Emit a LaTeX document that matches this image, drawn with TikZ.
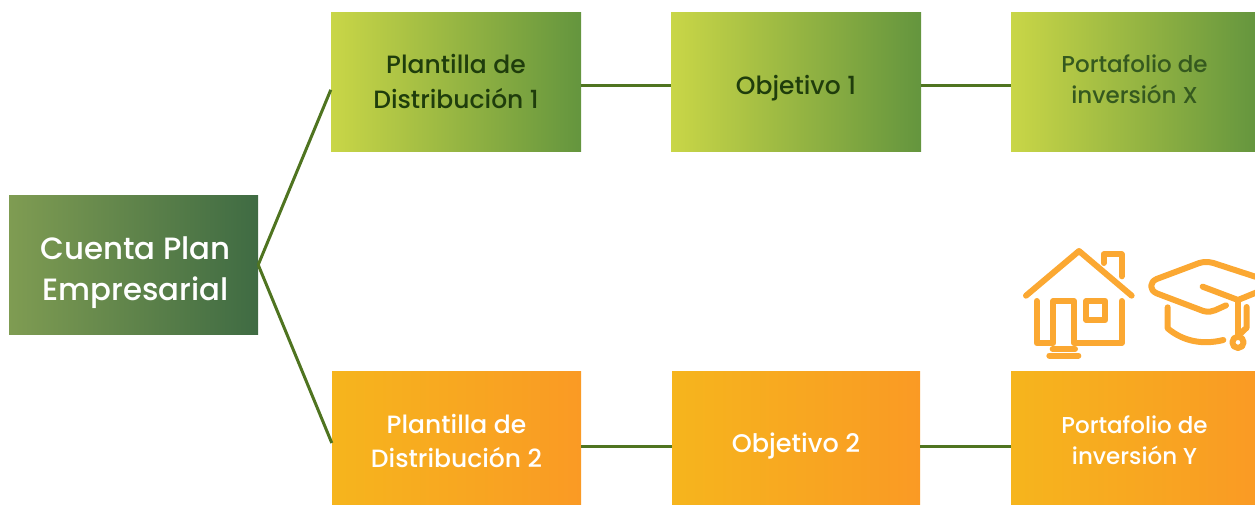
\documentclass[tikz,border=0pt]{standalone}
\usepackage{fontspec}
\setmainfont{Poppins Medium}
\definecolor{linkgreen}{HTML}{4F7420}
\definecolor{darktext}{HTML}{1F3D0C}
\definecolor{midtext}{HTML}{35591F}
\definecolor{iconorange}{HTML}{FBA832}
\definecolor{HG1}{HTML}{C9D647}
\definecolor{HG2}{HTML}{64953E}
\definecolor{HO1}{HTML}{F6B51D}
\definecolor{HO2}{HTML}{FA9A24}
\definecolor{HR1}{HTML}{7F9C52}
\definecolor{HR2}{HTML}{3F6B43}
\newcommand{\lbl}[2]{\raisebox{#1}[0pt][0pt]{\begin{tabular}{@{}c@{}}#2\end{tabular}}}
\tikzset{
 box/.style={rectangle,inner sep=0pt,minimum height=139.4pt},
 greenbox/.style={box,left color=HG1,right color=HG2,text=darktext,font=\fontsize{25}{35}\selectfont},
 orangebox/.style={box,left color=HO1,right color=HO2,text=white,font=\fontsize{25}{34}\selectfont},
 rootbox/.style={box,left color=HR1,right color=HR2,text=white,font=\fontsize{30.8}{41}\selectfont},
 link/.style={draw=linkgreen,line width=3pt},
 icon/.style={draw=iconorange,line width=6pt,line cap=round,line join=round}
}
\begin{document}
\begin{tikzpicture}[x=1pt,y=-1pt]
\useasboundingbox (0,0) rectangle (1255,504);
\node[rootbox,minimum width=249pt] (root) at (133.5,264.8) {\hspace{4pt}\lbl{-13.7pt}{Cuenta Plan\\Empresarial}};
\node[greenbox,minimum width=250pt] (p1) at (456,81.8) {\lbl{-8.75pt}{Plantilla de\\Distribución 1}};
\node[greenbox,minimum width=250pt] (o1) at (796,81.8) {\lbl{-12.25pt}{Objetivo 1}};
\node[greenbox,minimum width=247pt,text=midtext,font=\fontsize{23}{31}\selectfont] (x1) at (1134.5,81.8) {\lbl{-6.25pt}{Portafolio de\\inversión X}};
\node[orangebox,minimum width=249pt] (p2) at (456.5,441) {\lbl{-8.75pt}{Plantilla de\\Distribución 2}};
\node[orangebox,minimum width=248pt,font=\fontsize{25.5}{34}\selectfont] (o2) at (796,441) {\lbl{-11.4pt}{Objetivo 2}};
\node[orangebox,minimum width=247pt,font=\fontsize{23}{31}\selectfont] (y2) at (1134.5,441) {\lbl{-8.25pt}{Portafolio de\\inversión Y}};
\draw[link] (root.east) -- ([yshift=-8pt]p1.west);
\draw[link] (root.east) -- ([yshift=-2pt]p2.west);
\draw[link] ([yshift=-4pt]p1.east) -- ([yshift=-4pt]o1.west);
\draw[link] ([yshift=-4pt]o1.east) -- ([yshift=-4pt]x1.west);
\draw[link] ([yshift=-5pt]p2.east) -- ([yshift=-5pt]o2.west);
\draw[link] ([yshift=-5pt]o2.east) -- ([yshift=-5pt]y2.west);
\begin{scope}[shift={(1000,235)},x=0.3333pt,y=-0.3333pt]
% house
\draw[icon] (78,182) -- (237,48) -- (395,182);
\draw[icon] (311,84) -- (311,58) -- (365,58) -- (365,124);
\draw[icon] (110,198) -- (110,324) -- (160,324) -- (160,198) -- (222,198) -- (222,324) -- (365,324) -- (365,198);
\draw[icon] (259,198) rectangle (316,255);
\draw[icon] (158,342) -- (225,342);
\draw[icon] (148,362) -- (235,362);
% cap
\draw[icon] (775,128) -- (640,84) .. controls (625,80) and (612,80) .. (598,84) -- (470,132) .. controls (448,142) and (448,165) .. (470,175) -- (610,228) .. controls (625,232) and (635,230) .. (645,226) -- (678,211);
\draw[icon] (608,155) -- (714,195) -- (775,170);
\draw[icon] (714,195) -- (714,300);
\draw[icon] (740,216) -- (740,278) -- (722,295);
\draw[icon] (503,217) -- (503,280) .. controls (550,320) and (610,330) .. (670,315);
\draw[icon] (714,322) circle (17);
\end{scope}
\end{tikzpicture}
\end{document}
